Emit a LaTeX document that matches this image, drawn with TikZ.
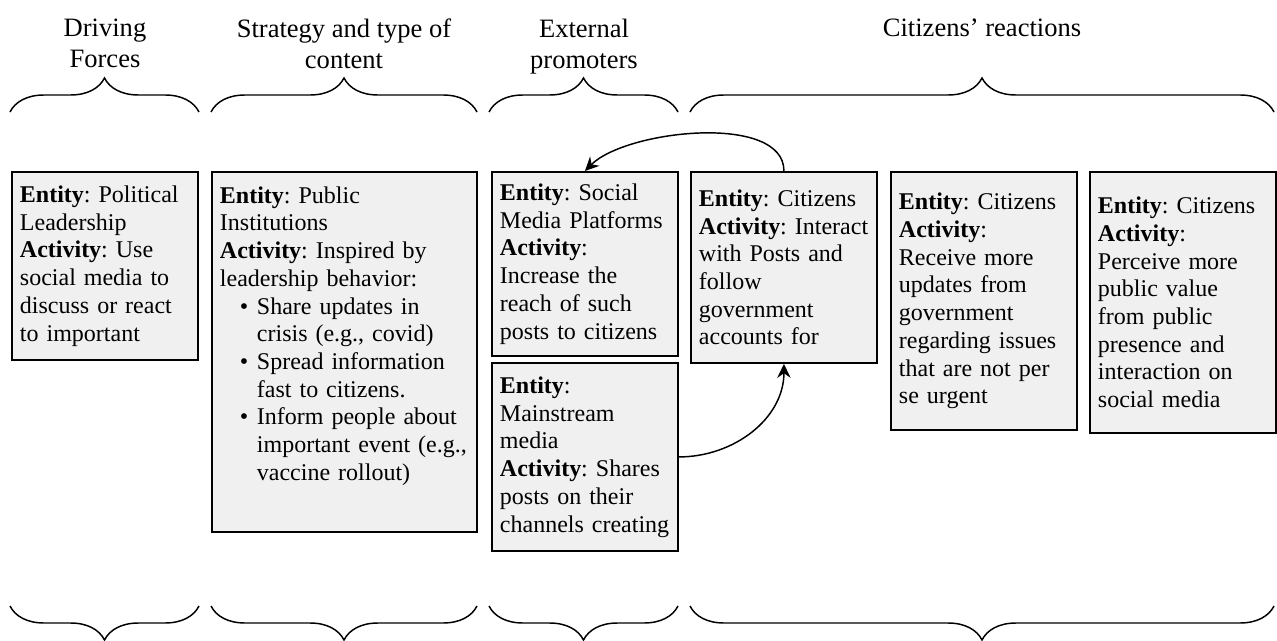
\documentclass[tikz,border=0pt]{standalone}
\usepackage{fontspec}
\setmainfont{Liberation Serif}
\usepackage{tikz}
\usetikzlibrary{arrows.meta, decorations.pathreplacing}

\hyphenpenalty=10000
\exhyphenpenalty=10000
\newcommand{\itembul}{\hspace*{15pt}\makebox[12.75pt][l]{\textbullet}}
\newcommand{\itemind}{\hspace*{27.75pt}}

\begin{document}
\begin{tikzpicture}[x=0.75pt, y=0.75pt,
        box/.style = {draw, line width=1.4pt, fill=black!6, anchor=north west, align=left, inner xsep=6pt, text width=127.5pt, font=\fontsize{18pt}{20.8pt}\selectfont\frenchspacing},
        head/.style = {anchor=north, align=center, inner sep=0pt, font=\fontsize{19.9pt}{22.9pt}\selectfont},
        brc/.style = {decorate, decoration={brace, amplitude=25.5pt}, line width=1.1pt},
        arr/.style = {-{Stealth[length=10.5pt, width=10pt, inset=3.5pt]}, line width=1.1pt}]
                \useasboundingbox (0, 0) rectangle (1277, 640);

                \node[head] at (105, 621) (DF) {Driving\\Forces};
                \node[head] at (344, 621) (ST) {Strategy and type of\\content};
                \node[head] at (584, 621) (EP) {External\\promoters};
                \node[head] at (982, 621) (CR) {Citizens' reactions};

                \draw [brc] (10, 528) -- (199, 528);
                \draw [brc] (211, 528) -- (477, 528);
                \draw [brc] (489, 528) -- (678, 528);
                \draw [brc] (690, 528) -- (1274, 528);

                \node[box, minimum height=141pt] at (11, 469) (L) {\textbf{Entity}: Political\\Leadership\\\textbf{Activity}: Use\\social media to\\discuss or react\\to important};
                \node[box, minimum height=270pt, text width=186.75pt] at (211, 469) (I) {\textbf{Entity}: Public\\Institutions\\\textbf{Activity}: Inspired by\\leadership behavior:\\\itembul Share updates in\\\itemind crisis (e.g., covid)\\\itembul Spread information\\\itemind fast to citizens.\\\itembul Inform people about\\\itemind important event (e.g.,\\\itemind vaccine rollout)\rule[-27.75pt]{0pt}{27.75pt}};
                \node[box, minimum height=138pt] at (491, 469) (S) {\textbf{Entity}: Social\\Media Platforms\\\textbf{Activity}:\\Increase the\\reach of such\\posts to citizens};
                \node[box, minimum height=141pt] at (491, 278) (M) {\textbf{Entity}:\\Mainstream\\media\\\textbf{Activity}: Shares\\posts on their\\channels creating};
                \node[box, minimum height=143.25pt] at (690, 469) (C1) {\textbf{Entity}: Citizens\\\textbf{Activity}: Interact\\with Posts and\\follow\\government\\accounts for};
                \node[box, minimum height=193.5pt] at (890, 469) (C2) {\textbf{Entity}: Citizens\\\textbf{Activity}:\\Receive more\\updates from\\government\\regarding issues\\that are not per\\se urgent};
                \node[box, minimum height=195.75pt] at (1089, 469) (C3) {\textbf{Entity}: Citizens\\\textbf{Activity}:\\Perceive more\\public value\\from public\\presence and\\interaction on\\social media};

                \draw [arr] (C1.north) to[out=90, in=45, looseness=0.75] (S.north);
                \draw [arr] (M.east) to[out=0, in=-90] (C1.south);

                \draw [brc] (199, 34) -- (10, 34);
                \draw [brc] (477, 34) -- (211, 34);
                \draw [brc] (678, 34) -- (489, 34);
                \draw [brc] (1274, 34) -- (690, 34);
            \end{tikzpicture}
\end{document}
